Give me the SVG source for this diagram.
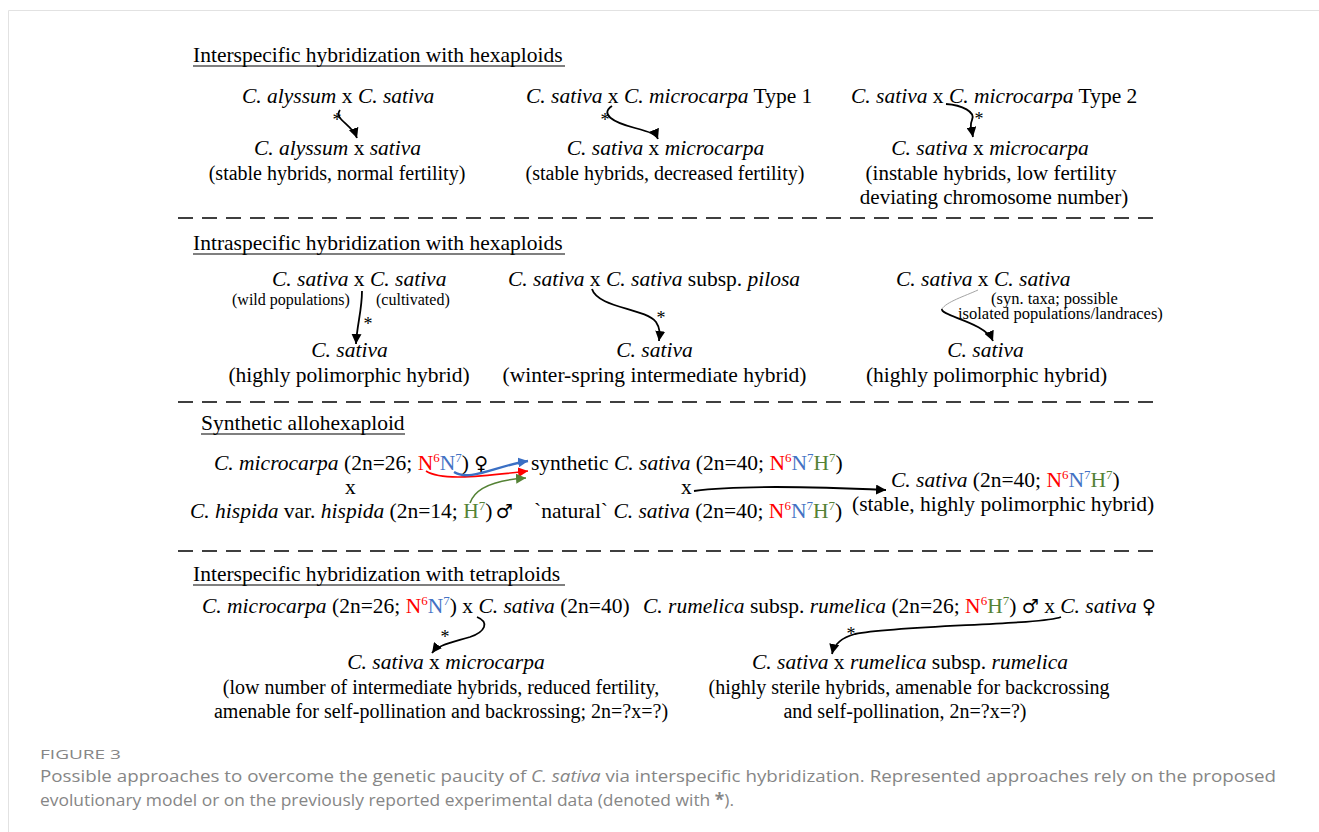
<svg xmlns="http://www.w3.org/2000/svg" width="1319" height="832" viewBox="0 0 1319 832">
<style>
.t{font-family:"Liberation Serif","Times New Roman",serif;font-size:21.5px;fill:#000}
.m{font-size:20px}
.m2{font-size:21px}
.s{font-size:16px}
.s2{font-size:16.5px}
.i{font-style:italic}
.r{fill:#ff0000}
.b{fill:#4472c4}
.g{fill:#548235}
.sup{font-size:13px}
.sym{font-family:"DejaVu Sans",sans-serif;font-size:19px;font-weight:normal}
.ast{font-size:18px}
.cap{font-family:"Open Sans",sans-serif;fill:#868686}
.dash{stroke:#000;stroke-width:1.5;stroke-dasharray:15 9;fill:none}
.ul{stroke:#000;stroke-width:1.2}
.arr{fill:none;stroke:#000;stroke-width:1.8}
.frame{stroke:#e2e2e2;stroke-width:1;fill:none}
</style>
<defs>
<marker id="ak" markerUnits="userSpaceOnUse" markerWidth="12" markerHeight="10" refX="10" refY="5" orient="auto"><path d="M0,0 L10,5 L0,10 Z" fill="#000"/></marker>
<marker id="ab" markerUnits="userSpaceOnUse" markerWidth="12" markerHeight="10" refX="10" refY="5" orient="auto"><path d="M0,0 L10,5 L0,10 Z" fill="#3a6fc4"/></marker>
<marker id="ar" markerUnits="userSpaceOnUse" markerWidth="12" markerHeight="10" refX="10" refY="5" orient="auto"><path d="M0,0 L10,5 L0,10 Z" fill="#ff0000"/></marker>
<marker id="ag" markerUnits="userSpaceOnUse" markerWidth="12" markerHeight="10" refX="10" refY="5" orient="auto"><path d="M0,0 L10,5 L0,10 Z" fill="#548235"/></marker>
</defs>
<rect width="1319" height="832" fill="#fff"/>
<path class="frame" d="M8.5,832 L8.5,10.5 L1319,10.5"/>

<!-- Section headings and separators -->
<g id="headings">
<text class="t" x="193" y="62">Interspecific hybridization with hexaploids</text>
<line class="ul" x1="193" y1="66" x2="565" y2="66"/>
<text class="t" x="193" y="250">Intraspecific hybridization with hexaploids</text>
<line class="ul" x1="193" y1="254" x2="565" y2="254"/>
<text class="t" x="201" y="430">Synthetic allohexaploid</text>
<line class="ul" x1="201" y1="434" x2="405" y2="434"/>
<text class="t" x="193" y="581">Interspecific hybridization with tetraploids</text>
<line class="ul" x1="193" y1="585" x2="565" y2="585"/>
</g>
<g id="separators">
<line class="dash" x1="178" y1="218" x2="1162" y2="218"/>
<line class="dash" x1="178" y1="402" x2="1162" y2="402"/>
<line class="dash" x1="178" y1="551" x2="1162" y2="551"/>
</g>

<!-- Section 1 -->
<g id="n1a"><text class="t" x="242" y="103"><tspan class="i">C. alyssum</tspan> x <tspan class="i">C. sativa</tspan></text></g>
<g id="n1b"><text class="t" x="337.5" y="155" text-anchor="middle"><tspan class="i">C. alyssum</tspan> x <tspan class="i">sativa</tspan></text>
<text class="t m" x="337" y="180" text-anchor="middle">(stable hybrids, normal fertility)</text></g>
<g id="n1c"><text class="t" x="526" y="103"><tspan class="i">C. sativa</tspan> x <tspan class="i">C. microcarpa</tspan> Type 1</text></g>
<g id="n1d"><text class="t" x="665.5" y="155" text-anchor="middle"><tspan class="i">C. sativa</tspan> x <tspan class="i">microcarpa</tspan></text>
<text class="t m" x="665" y="180" text-anchor="middle">(stable hybrids, decreased fertility)</text></g>
<g id="n1e"><text class="t" x="851" y="103"><tspan class="i">C. sativa</tspan> x <tspan class="i">C. microcarpa</tspan> Type 2</text></g>
<g id="n1f"><text class="t" x="990" y="155" text-anchor="middle"><tspan class="i">C. sativa</tspan> x <tspan class="i">microcarpa</tspan></text>
<text class="t m2" x="991" y="180" text-anchor="middle">(instable hybrids, low fertility</text>
<text class="t m2" x="994" y="204" text-anchor="middle">deviating chromosome number)</text></g>

<!-- Section 2 -->
<g id="n2a"><text class="t" x="272" y="286"><tspan class="i">C. sativa</tspan> x <tspan class="i">C. sativa</tspan></text>
<text class="t s" x="232" y="305">(wild populations)</text>
<text class="t s" x="376" y="305">(cultivated)</text></g>
<g id="n2b"><text class="t" x="349.5" y="357" text-anchor="middle" font-style="italic">C. sativa</text>
<text class="t" x="349" y="382" text-anchor="middle">(highly polimorphic hybrid)</text></g>
<g id="n2c"><text class="t" x="508" y="286"><tspan class="i">C. sativa</tspan> x <tspan class="i">C. sativa</tspan> subsp. <tspan class="i">pilosa</tspan></text></g>
<g id="n2d"><text class="t" x="654.5" y="357" text-anchor="middle" font-style="italic">C. sativa</text>
<text class="t" x="654.5" y="382" text-anchor="middle">(winter-spring intermediate hybrid)</text></g>
<g id="n2e"><text class="t" x="896" y="286"><tspan class="i">C. sativa</tspan> x <tspan class="i">C. sativa</tspan></text>
<text class="t s2" x="991" y="303.5">(syn. taxa; possible</text>
<text class="t s2" x="958" y="319">isolated populations/landraces)</text></g>
<g id="n2f"><text class="t" x="985.5" y="357" text-anchor="middle" font-style="italic">C. sativa</text>
<text class="t" x="986.5" y="382" text-anchor="middle">(highly polimorphic hybrid)</text></g>

<!-- Section 3 -->
<g id="n3a"><text class="t" x="214" y="470"><tspan class="i">C. microcarpa</tspan> (2n=26; <tspan class="r">N</tspan><tspan class="r sup" dy="-8">6</tspan><tspan class="b" dy="8">N</tspan><tspan class="b sup" dy="-8">7</tspan><tspan dy="8">) </tspan><tspan class="sym">♀</tspan></text></g>
<g id="n3x"><text class="t" x="345" y="494">x</text></g>
<g id="n3b"><text class="t" x="190" y="518"><tspan class="i">C. hispida</tspan> var. <tspan class="i">hispida</tspan> (2n=14; <tspan class="g">H</tspan><tspan class="g sup" dy="-8">7</tspan><tspan dy="8">) </tspan><tspan class="sym" dx="-2">♂</tspan></text></g>
<g id="n3c"><text class="t" x="531" y="470">synthetic <tspan class="i">C. sativa</tspan> (2n=40; <tspan class="r">N</tspan><tspan class="r sup" dy="-8">6</tspan><tspan class="b" dy="8">N</tspan><tspan class="b sup" dy="-8">7</tspan><tspan class="g" dy="8">H</tspan><tspan class="g sup" dy="-8">7</tspan><tspan dy="8">)</tspan></text></g>
<g id="n3x2"><text class="t" x="681" y="494">x</text></g>
<g id="n3d"><text class="t" x="534" y="518">`natural` <tspan class="i">C. sativa</tspan> (2n=40; <tspan class="r">N</tspan><tspan class="r sup" dy="-8">6</tspan><tspan class="b" dy="8">N</tspan><tspan class="b sup" dy="-8">7</tspan><tspan class="g" dy="8">H</tspan><tspan class="g sup" dy="-8">7</tspan><tspan dy="8">)</tspan></text></g>
<g id="n3e"><text class="t" x="891" y="487"><tspan class="i">C. sativa</tspan> (2n=40; <tspan class="r">N</tspan><tspan class="r sup" dy="-8">6</tspan><tspan class="b" dy="8">N</tspan><tspan class="b sup" dy="-8">7</tspan><tspan class="g" dy="8">H</tspan><tspan class="g sup" dy="-8">7</tspan><tspan dy="8">)</tspan></text>
<text class="t" x="852" y="511">(stable, highly polimorphic hybrid)</text></g>

<!-- Section 4 -->
<g id="n4a"><text class="t" x="202" y="613"><tspan class="i">C. microcarpa</tspan> (2n=26; <tspan class="r">N</tspan><tspan class="r sup" dy="-8">6</tspan><tspan class="b" dy="8">N</tspan><tspan class="b sup" dy="-8">7</tspan><tspan dy="8">) x </tspan><tspan class="i">C. sativa</tspan> (2n=40)</text></g>
<g id="n4b"><text class="t" x="446" y="669" text-anchor="middle"><tspan class="i">C. sativa</tspan> x <tspan class="i">microcarpa</tspan></text>
<text class="t m" x="441" y="694" text-anchor="middle">(low number of intermediate hybrids, reduced fertility,</text>
<text class="t m" x="441" y="718" text-anchor="middle">amenable for self-pollination and backrossing; 2n=?x=?)</text></g>
<g id="n4c"><text class="t" x="643" y="613"><tspan class="i">C. rumelica</tspan> subsp. <tspan class="i">rumelica</tspan> (2n=26; <tspan class="r">N</tspan><tspan class="r sup" dy="-8">6</tspan><tspan class="g" dy="8">H</tspan><tspan class="g sup" dy="-8">7</tspan><tspan dy="8">) </tspan><tspan class="sym">♂</tspan> x <tspan class="i">C. sativa</tspan> <tspan class="sym">♀</tspan></text></g>
<g id="n4d"><text class="t" x="910" y="669" text-anchor="middle"><tspan class="i">C. sativa</tspan> x <tspan class="i">rumelica</tspan> subsp. <tspan class="i">rumelica</tspan></text>
<text class="t m" x="909" y="694" text-anchor="middle">(highly sterile hybrids, amenable for backcrossing</text>
<text class="t m" x="905" y="718" text-anchor="middle">and self-pollination, 2n=?x=?)</text></g>

<!-- Connectors -->
<g id="connectors">
<path class="arr" d="M340,110 C333,119 352,124 357,138" marker-end="url(#ak)"/>
<path class="arr" d="M612,106 C600,114 612,122 635,128 C650,132 656,134 658,139" marker-end="url(#ak)"/>
<path class="arr" d="M946,104 C962,105 976,112 972,120 C969,127 972,131 973,137" marker-end="url(#ak)"/>
<path class="arr" d="M362,291 C362,310 357,325 356,344" marker-end="url(#ak)"/>
<path class="arr" d="M592,289 C598,308 645,308 656,322 C660,328 660,333 659,341" marker-end="url(#ak)"/>
<path fill="none" stroke="#999" stroke-width="0.9" d="M978,290 C965,296 946,302 942,309"/>
<path class="arr" d="M942,309 C940,316 985,322 993,341" marker-end="url(#ak)"/>
<path fill="none" stroke="#ff0000" stroke-width="1.6" d="M426,471 C440,480 470,478 528,471" marker-end="url(#ar)"/>
<path fill="none" stroke="#3a6fc4" stroke-width="2.4" d="M454,472 C470,482 495,466 528,461" marker-end="url(#ab)"/>
<path fill="none" stroke="#548235" stroke-width="1.6" d="M470,503 C475,488 495,480 526,478" marker-end="url(#ag)"/>
<path class="arr" d="M694,491 C730,486 800,486 886,490" marker-end="url(#ak)"/>
<path class="arr" d="M477,617 C490,622 485,632 470,637 C450,643 438,645 432,653" marker-end="url(#ak)"/>
<path class="arr" d="M1061,617 C1040,625 900,625 855,634 C840,638 834,645 832,654" marker-end="url(#ak)"/>
</g>
<g id="asterisks">
<text class="t ast" x="337" y="126" text-anchor="middle">*</text>
<text class="t ast" x="605" y="126" text-anchor="middle">*</text>
<text class="t ast" x="979" y="125" text-anchor="middle">*</text>
<text class="t ast" x="368" y="330" text-anchor="middle">*</text>
<text class="t ast" x="661" y="324" text-anchor="middle">*</text>
<text class="t ast" x="445" y="643" text-anchor="middle">*</text>
<text class="t ast" x="851" y="640" text-anchor="middle">*</text>
</g>

<!-- Caption -->
<g id="caption">
<text class="cap" x="40" y="759" font-size="13.5" textLength="81" lengthAdjust="spacingAndGlyphs">FIGURE 3</text>
<text class="cap" x="40" y="782" font-size="17" textLength="1236" lengthAdjust="spacingAndGlyphs">Possible approaches to overcome the genetic paucity of <tspan font-style="italic">C. sativa</tspan> via interspecific hybridization. Represented approaches rely on the proposed</text>
<text class="cap" x="40" y="806" font-size="17" textLength="694" lengthAdjust="spacingAndGlyphs">evolutionary model or on the previously reported experimental data (denoted with <tspan font-weight="bold">*</tspan>).</text>
</g>
</svg>
